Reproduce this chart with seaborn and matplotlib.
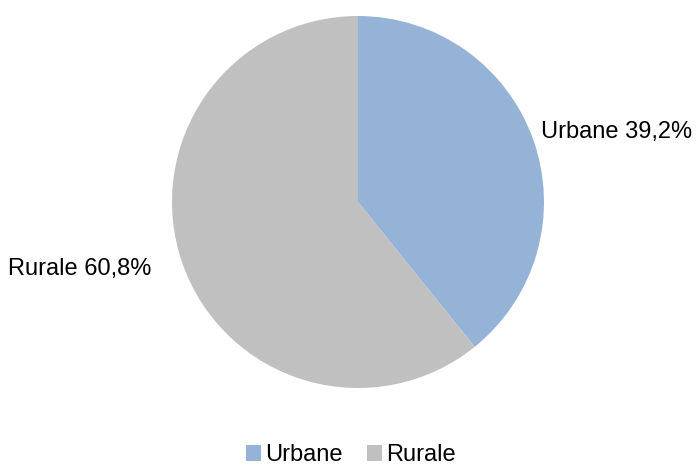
import matplotlib
matplotlib.use("Agg")
import matplotlib.pyplot as plt
import seaborn as sns
from matplotlib.patches import Patch

sns.set_theme(style="white")
plt.rcParams['font.family'] = ['Liberation Sans', 'DejaVu Sans']

categories = ["Urbane", "Rurale"]
values = [39.2, 60.8]
colors = ["#95B3D7", "#C0C0C0"]

W, H = 697, 467
fig = plt.figure(figsize=(W / 100, H / 100), dpi=100)
cx, cy, r = 358, 202, 186
ax = fig.add_axes([(cx - r) / W, (H - cy - r) / H, 2 * r / W, 2 * r / H])

ax.pie(values, colors=colors, startangle=90, counterclock=False, radius=1,
       wedgeprops=dict(linewidth=0))
ax.set_xlim(-1, 1)
ax.set_ylim(-1, 1)
ax.axis("off")

fig.text(541 / W, 1 - 132 / H, "Urbane 39,2%", fontsize=17, va="center", ha="left",
         color="black")
fig.text(8 / W, 1 - 269 / H, "Rurale 60,8%", fontsize=17, va="center", ha="left",
         color="black")

handles = [Patch(facecolor=c, edgecolor="none") for c in colors]
fig.legend(handles, categories, loc="center", bbox_to_anchor=(351 / W, 1 - 455 / H),
           ncol=2, frameon=False, fontsize=17, handlelength=0.64, handleheight=0.64,
           handletextpad=0.17, columnspacing=1.05, borderpad=0,
           labelcolor="black")

fig.savefig("out.png", dpi=100)
